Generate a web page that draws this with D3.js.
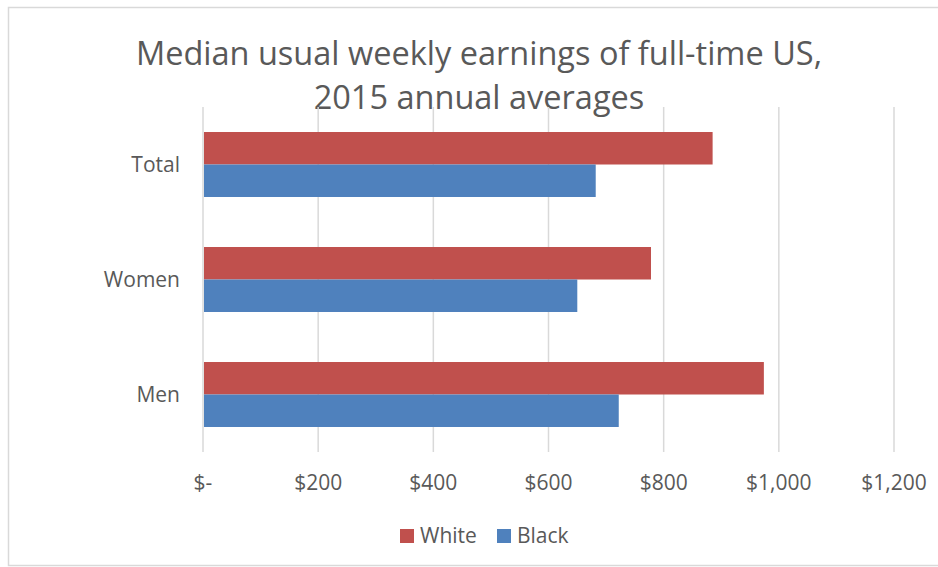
<!DOCTYPE html>
<html>
<head>
<meta charset="utf-8">
<script src="https://cdn.jsdelivr.net/npm/d3@7"></script>
<style>
  body { margin: 0; background: #fff; }
  text { font-family: "Open Sans", "Noto Sans", sans-serif; fill: #595959; }
</style>
</head>
<body>
<div id="chart"></div>
<script>
// Chart data
const categories = ['Total', 'Women', 'Men'];
const seriesNames = ['White', 'Black'];
const whiteValues = [885, 778, 974];
const blackValues = [682, 650, 722];
const tickValues = [0, 200, 400, 600, 800, 1000, 1200];
const tickLabels = ['$-', '$200', '$400', '$600', '$800', '$1,000', '$1,200'];
const titleLines = ['Median usual weekly earnings of full-time US,', '2015 annual averages'];

const colors = { White: '#C0504D', Black: '#4F81BD' };

const width = 938, height = 567;
const svg = d3.select('#chart').append('svg')
    .attr('width', width)
    .attr('height', height);

// Outer chart border
svg.append('rect')
    .attr('x', 8.5).attr('y', 7.5)
    .attr('width', 945).attr('height', 558)
    .attr('fill', 'none')
    .attr('stroke', '#d9d9d9')
    .attr('stroke-width', 1.5);

// Title
svg.append('g').selectAll('text')
    .data(titleLines)
    .enter().append('text')
    .attr('x', 479)
    .attr('y', (d, i) => 65 + i * 44)
    .attr('text-anchor', 'middle')
    .style('font-size', '32.5px')
    .text(d => d);

const x = d3.scaleLinear().domain([0, 1200]).range([203, 894]);
const y = d3.scaleBand().domain(categories).range([107, 452])
    .paddingInner(0.435).paddingOuter(0.2175);
const ySeries = d3.scaleBand().domain(seriesNames).range([0, y.bandwidth()]);

// Gridlines
svg.append('g').selectAll('line')
    .data(tickValues)
    .enter().append('line')
    .attr('x1', d => x(d)).attr('x2', d => x(d))
    .attr('y1', 107).attr('y2', 452)
    .attr('stroke', '#d9d9d9')
    .attr('stroke-width', 1.5);

// Bars
const rows = categories.map((c, i) => ({ category: c, White: whiteValues[i], Black: blackValues[i] }));
const group = svg.append('g').selectAll('g')
    .data(rows)
    .enter().append('g')
    .attr('transform', d => `translate(0,${y(d.category)})`);

group.selectAll('rect')
    .data(d => seriesNames.map(s => ({ series: s, value: d[s] })))
    .enter().append('rect')
    .attr('x', x(0) + 1)
    .attr('y', d => ySeries(d.series))
    .attr('width', d => x(d.value) - x(0) - 1)
    .attr('height', ySeries.bandwidth())
    .attr('fill', d => colors[d.series]);

// Category labels
svg.append('g').selectAll('text')
    .data(categories)
    .enter().append('text')
    .attr('x', 180)
    .attr('y', d => y(d) + y.bandwidth() / 2)
    .attr('dy', '0.36em')
    .attr('text-anchor', 'end')
    .style('font-size', '21px')
    .text(d => d);

// X tick labels
svg.append('g').selectAll('text')
    .data(tickValues)
    .enter().append('text')
    .attr('x', d => x(d))
    .attr('y', 490)
    .attr('text-anchor', 'middle')
    .style('font-size', '21px')
    .text((d, i) => tickLabels[i]);

// Legend
const legend = svg.append('g').selectAll('g')
    .data(seriesNames)
    .enter().append('g')
    .attr('transform', (d, i) => `translate(${[400, 497][i]},529)`);

legend.append('rect')
    .attr('width', 14).attr('height', 14)
    .attr('fill', d => colors[d]);

legend.append('text')
    .attr('x', 20)
    .attr('y', 14)
    .style('font-size', '21px')
    .text(d => d);
</script>
</body>
</html>
